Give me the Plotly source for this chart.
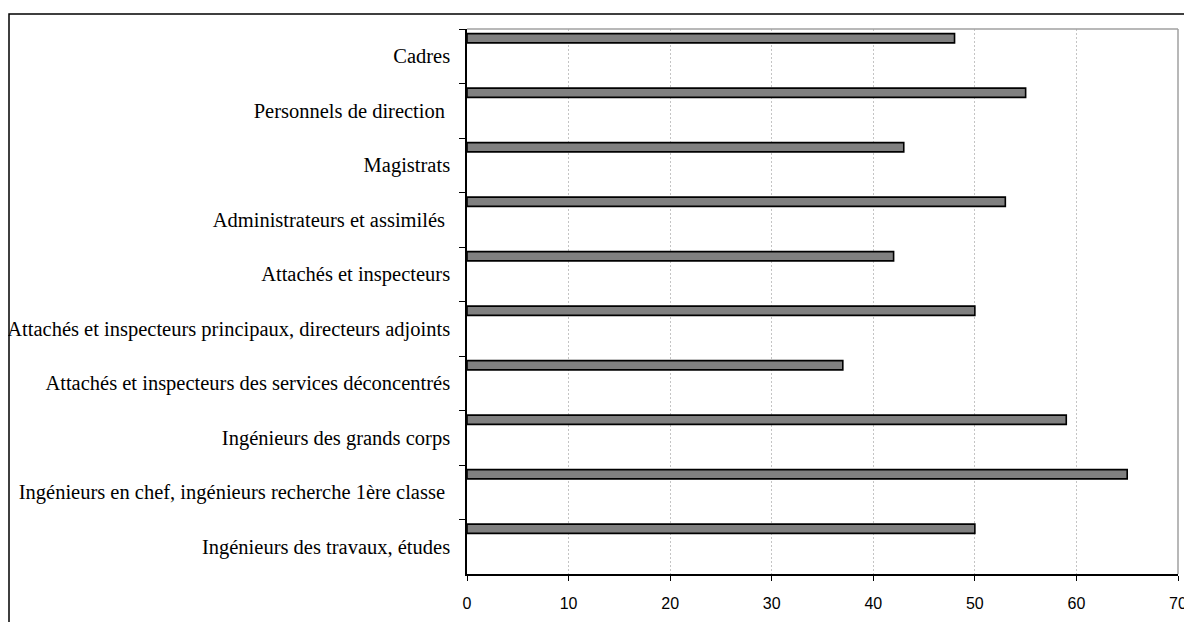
import plotly.graph_objects as go

categories = [
    "Cadres",
    "Personnels de direction\u00a0",
    "Magistrats",
    "Administrateurs et assimilés\u00a0",
    "Attachés et inspecteurs",
    "Attachés et inspecteurs principaux, directeurs adjoints",
    "Attachés et inspecteurs des services déconcentrés",
    "Ingénieurs des grands corps",
    "Ingénieurs en chef, ingénieurs recherche 1ère classe\u00a0",
    "Ingénieurs des travaux, études",
]
values = [48, 55, 43, 53, 42, 50, 37, 59, 65, 50]
x_ticks = [0, 10, 20, 30, 40, 50, 60, 70]

# page body has an 8px margin; figure coordinates are offset by it
W, H = 1184, 614
L, R, T = 459, 14, 21
pw, ph = W - L - R, 545
B = H - T - ph

fig = go.Figure()
fig.add_trace(go.Bar(
    y=categories, x=values, orientation="h",
    marker=dict(color="#808080", line=dict(color="#000000", width=1.6)),
    offset=-0.415, width=0.17,
    hoverinfo="x+y",
))

fig.update_layout(
    width=W, height=H,
    margin=dict(l=L, r=R, t=T, b=B, pad=0, autoexpand=False),
    paper_bgcolor="white", plot_bgcolor="white",
    showlegend=False,
    xaxis=dict(
        range=[0, 70], tickvals=x_ticks, ticktext=[str(v) for v in x_ticks],
        showgrid=True, gridcolor="#c4c4c4", griddash="2px,2px", gridwidth=1,
        showline=True, linecolor="#000000", linewidth=1.5,
        ticks="outside", ticklen=5, tickcolor="#000000", tickwidth=1,
        tickfont=dict(family="Liberation Sans, Arial", size=16, color="#000000"),
        ticklabelstandoff=9, automargin=False,
        zeroline=False, mirror=False, fixedrange=True,
    ),
    yaxis=dict(
        type="category", autorange="reversed",
        showline=True, linecolor="#000000", linewidth=1.5,
        ticks="outside", ticklen=6, tickcolor="#000000", tickwidth=1,
        tickson="boundaries", showgrid=False,
        tickfont=dict(family="Liberation Serif, Times New Roman", size=20.5, color="#000000"),
        ticklabelstandoff=11, automargin=False,
        fixedrange=True,
    ),
    shapes=[
        # top and right plot border (gray)
        dict(type="line", xref="paper", yref="paper", x0=0, x1=1, y0=1, y1=1,
             line=dict(color="#a0a0a0", width=1.5)),
        dict(type="line", xref="paper", yref="paper", x0=1, x1=1, y0=0, y1=1,
             line=dict(color="#a0a0a0", width=1.5)),
        # outer chart frame
        dict(type="rect", xref="paper", yref="paper",
             x0=(1 - L) / pw, x1=1.2, y0=-0.3, y1=1 + (T - 6) / ph,
             line=dict(color="#000000", width=1.5), layer="below"),
    ],
)

fig.write_html("out.html")
